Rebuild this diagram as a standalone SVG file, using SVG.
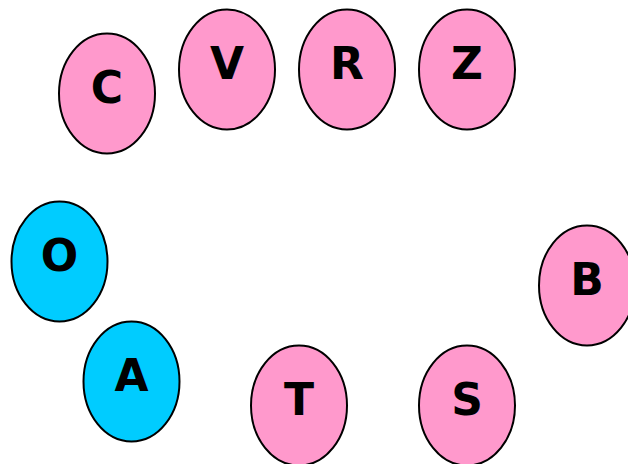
<svg xmlns="http://www.w3.org/2000/svg" width="628" height="464" viewBox="0 0 628 464">
<style>
ellipse{stroke:#000;stroke-width:2}
.p{fill:#ff99cc}
.c{fill:#00ccff}
text{font-family:"DejaVu Sans",sans-serif;font-weight:bold;font-size:44px;text-anchor:middle;fill:#000}
</style>
<rect width="628" height="464" fill="#fff"/>
<g id="connectors"></g>
<g id="C"><ellipse class="p" cx="107" cy="93.5" rx="48" ry="60"/><text x="107" y="102.5">C</text></g>
<g id="V"><ellipse class="p" cx="227" cy="69.5" rx="48" ry="60"/><text x="227" y="78.5">V</text></g>
<g id="R"><ellipse class="p" cx="347" cy="69.5" rx="48" ry="60"/><text x="347" y="78.5">R</text></g>
<g id="Z"><ellipse class="p" cx="467" cy="69.5" rx="48" ry="60"/><text x="467" y="78.5">Z</text></g>
<g id="O"><ellipse class="c" cx="59.5" cy="261.5" rx="48" ry="60"/><text x="59.5" y="270.5">O</text></g>
<g id="A"><ellipse class="c" cx="131.5" cy="381.5" rx="48" ry="60"/><text x="131.5" y="390.5">A</text></g>
<g id="T"><ellipse class="p" cx="299" cy="405.5" rx="48" ry="60"/><text x="299" y="414.5">T</text></g>
<g id="S"><ellipse class="p" cx="467" cy="405.5" rx="48" ry="60"/><text x="467" y="414.5">S</text></g>
<g id="B"><ellipse class="p" cx="587" cy="285.5" rx="48" ry="60"/><text x="587" y="294.5">B</text></g>
</svg>
